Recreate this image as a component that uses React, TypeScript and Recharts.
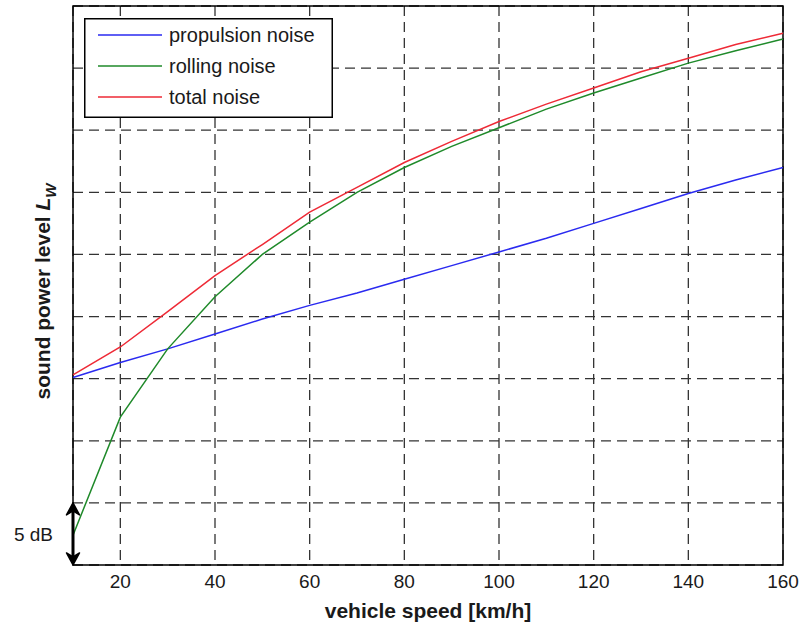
import React from "react";
import {
  CartesianGrid,
  Line,
  LineChart,
  ReferenceArea,
  ReferenceLine,
  XAxis,
  YAxis,
} from "recharts";

// vehicle speed [km/h]
const SPEEDS = [10, 20, 30, 40, 50, 60, 70, 80, 90, 100, 110, 120, 130, 140, 150, 160];
// sound power level, dB relative to the bottom of the plot
const PROPULSION = [15.1, 16.3, 17.4, 18.6, 19.8, 20.9, 21.9, 23.0, 24.1, 25.2, 26.3, 27.5, 28.7, 29.9, 31.0, 32.0];
const ROLLING = [2.4, 11.9, 17.4, 21.6, 25.0, 27.6, 30.0, 32.0, 33.7, 35.2, 36.7, 38.0, 39.2, 40.4, 41.4, 42.35];
const TOTAL = [15.3, 17.55, 20.4, 23.3, 25.8, 28.4, 30.4, 32.4, 34.1, 35.7, 37.1, 38.4, 39.7, 40.8, 41.9, 42.8];

const X_TICKS = [20, 40, 60, 80, 100, 120, 140, 160];
const Y_TICKS = [0, 5, 10, 15, 20, 25, 30, 35, 40, 45];

const SERIES = [
  { key: "propulsion", name: "propulsion noise", color: "#2a2af0" },
  { key: "rolling", name: "rolling noise", color: "#1f8a2a" },
  { key: "total", name: "total noise", color: "#ee2a36" },
];

const FONT = '"Liberation Sans", Arial, Helvetica, sans-serif';
const INK = "#1a1a1a";

const rows = SPEEDS.map((speed, i) => ({
  speed,
  propulsion: PROPULSION[i],
  rolling: ROLLING[i],
  total: TOTAL[i],
}));

/** Boxed legend in the upper left, MATLAB style (overlay, so it takes no layout space). */
function BoxLegend() {
  return (
    <svg
      width={249}
      height={100}
      style={{ position: "absolute", left: 84, top: 18, display: "block" }}
    >
      <rect x={0.75} y={0.75} width={247.5} height={98.5} fill="#fff" stroke="#000" strokeWidth={1.5} />
      {SERIES.map((s, i) => {
        const y = 17 + i * 31;
        return (
          <g key={s.key}>
            <line x1={14} x2={78} y1={y} y2={y} stroke={s.color} strokeWidth={1.6} />
            <text x={85} y={y + 7} fontSize={20} fontFamily={FONT} fill={INK}>
              {s.name}
            </text>
          </g>
        );
      })}
    </svg>
  );
}

/** Rotated y label with italic subscripted L_W. */
function YLabel(props: any) {
  const vb = props.viewBox || {};
  const cx = vb.x + vb.width - 23;
  const cy = vb.y + vb.height / 2 + 6;
  return (
    <text
      transform={`translate(${cx},${cy}) rotate(-90)`}
      textAnchor="middle"
      fontFamily={FONT}
      fontWeight="bold"
      fontSize={21}
      fill={INK}
    >
      sound power level{"  "}
      <tspan fontStyle="italic">L</tspan>
      <tspan fontStyle="italic" fontSize={15} dy={6}>
        W
      </tspan>
    </text>
  );
}

/** Double-headed "5 dB" scale arrow along the left edge. */
function ScaleArrow(props: any) {
  const x = props.x1 ?? 0;
  const yTop = Math.min(props.y1, props.y2);
  const yBot = Math.max(props.y1, props.y2);
  const mid = (yTop + yBot) / 2;
  return (
    <g>
      <line x1={x} x2={x} y1={yTop + 4} y2={yBot - 4} stroke="#000" strokeWidth={3} />
      <path d={`M${x},${yTop} L${x - 6.5},${yTop + 12} L${x},${yTop + 8} L${x + 6.5},${yTop + 12} Z`} fill="#000" stroke="#000" strokeWidth={1.5} strokeLinejoin="round" />
      <path d={`M${x},${yBot} L${x - 6.5},${yBot - 12} L${x},${yBot - 8} L${x + 6.5},${yBot - 12} Z`} fill="#000" stroke="#000" strokeWidth={1.5} strokeLinejoin="round" />
      <text x={x - 20} y={mid + 7} textAnchor="end" fontFamily={FONT} fontSize={19} fill={INK}>
        5 dB
      </text>
    </g>
  );
}

const NoTick = () => <g />;

export default function App() {
  return (
    <div style={{ position: "absolute", left: 0, top: 0, width: 803, height: 626, background: "#fff" }}>
      <LineChart
        width={803}
        height={626}
        data={rows}
        margin={{ top: 6, right: 20, bottom: 0, left: 0 }}
      >
        <CartesianGrid stroke="#333" strokeDasharray="10 6" strokeWidth={1.3} />
        <XAxis
          dataKey="speed"
          type="number"
          domain={[10, 160]}
          ticks={X_TICKS}
          axisLine={false}
          tickLine={false}
          tickMargin={4}
          height={61}
          tick={{ fontSize: 19, fontFamily: FONT, fill: INK }}
          label={{
            value: "vehicle speed [km/h]",
            position: "insideBottom",
            offset: 8,
            style: { fontSize: 21, fontWeight: "bold", fontFamily: FONT, fill: INK },
          }}
        />
        <YAxis
          type="number"
          domain={[0, 45]}
          ticks={Y_TICKS}
          width={73}
          tick={<NoTick />}
          tickLine={false}
          axisLine={false}
          label={<YLabel />}
        />
        {SERIES.map((s) => (
          <Line
            key={s.key}
            dataKey={s.key}
            name={s.name}
            type="linear"
            stroke={s.color}
            strokeWidth={1.5}
            dot={false}
            activeDot={false}
            isAnimationActive={false}
          />
        ))}
        <ReferenceArea x1={10} x2={160} y1={0} y2={45} fill="none" stroke="#000" strokeWidth={1.5} />
        <ReferenceLine
          segment={[
            { x: 10, y: 0 },
            { x: 10, y: 5 },
          ]}
          shape={<ScaleArrow />}
        />
      </LineChart>
      <BoxLegend />
    </div>
  );
}
